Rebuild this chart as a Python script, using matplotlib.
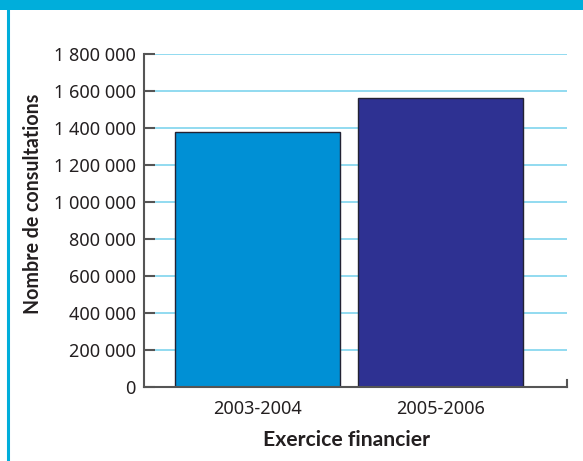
import matplotlib.pyplot as plt
from matplotlib.patches import Rectangle
from matplotlib.lines import Line2D
from matplotlib.ticker import FuncFormatter

plt.rcParams['font.family'] = ['Noto Sans', 'DejaVu Sans']

periods = ['2003-2004', '2005-2006']
consultations = [1378000, 1562000]
bar_colors = ['#0090d5', '#2e3192']
yticks = [0, 200000, 400000, 600000, 800000, 1000000, 1200000, 1400000, 1600000, 1800000]

W, H = 583, 461
fig = plt.figure(figsize=(W / 100, H / 100), dpi=100)
fig.patch.set_facecolor('white')

# frame: thick band on top, thin line on left
fig.patches.append(Rectangle((0, 1 - 10 / H), 1, 10 / H, transform=fig.transFigure,
                             facecolor='#00aedb', edgecolor='none', zorder=0))
fig.lines.append(Line2D([8 / W, 8 / W], [0, 1], transform=fig.transFigure,
                        color='#00aedb', lw=2.2))

ax = fig.add_axes([144 / W, (H - 387) / H, (567 - 144) / W, (387 - 54) / H])
x = range(len(periods))
ax.bar(x, consultations, width=0.9, color=bar_colors, edgecolor='#222233', lw=1.0, zorder=3)

ax.set_ylim(0, 1800000)
ax.set_xlim(-0.62, 1.69)
ax.set_yticks(yticks)
ax.yaxis.set_major_formatter(FuncFormatter(lambda v, p: f'{int(v):,}'.replace(',', ' ')))
ax.set_xticks(list(x))
ax.set_xticklabels(periods)

for v in yticks[1:]:
    ax.axhline(v, color='#7fd4ee', lw=1.2, zorder=1)

for s in ['top', 'right']:
    ax.spines[s].set_visible(False)
for s in ['left', 'bottom']:
    ax.spines[s].set_color('#555555')
    ax.spines[s].set_linewidth(1.5)
    ax.spines[s].set_zorder(4)

ax.tick_params(axis='y', direction='in', length=8, width=1.5, color='#555555',
               labelsize=13, labelcolor='#231f20', pad=6)
ax.tick_params(axis='x', length=0, labelsize=13, labelcolor='#231f20', pad=9)
ax.axvline(1.69, ymin=0, ymax=0.02, color='#555555', lw=1.5, clip_on=False)

lab = dict(fontweight='bold', color='#231f20', family=['Lato', 'DejaVu Sans'])
ax.set_ylabel('Nombre de consultations', fontsize=14.1, **lab)
ax.yaxis.set_label_coords(-0.239, 0.55)
ax.set_xlabel('Exercice financier', fontsize=15.2, **lab)
ax.xaxis.set_label_coords(0.479, -0.129)

fig.savefig('out.png', dpi=100)
